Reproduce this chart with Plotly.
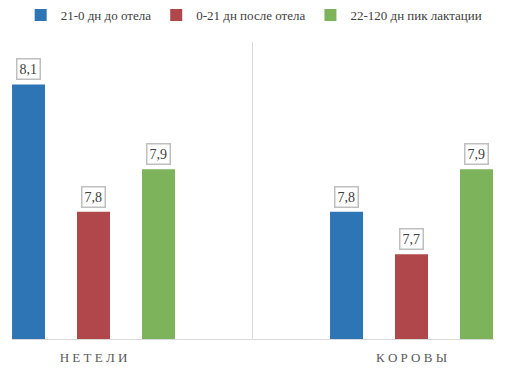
import plotly.graph_objects as go

categories = ["НЕТЕЛИ", "КОРОВЫ"]
category_labels = ["Н Е Т Е Л И", "К О Р О В Ы"]
series_names = ["21-0 дн до отела", "0-21 дн после отела", "22-120 дн пик лактации"]
series_values = [
    [8.1, 7.8],
    [7.8, 7.7],
    [7.9, 7.9],
]
colors = ["#2E75B6", "#B0474B", "#7DB35B"]

FONT = "Liberation Serif, Times New Roman, serif"
bargap = 0.387
groupgap = 0.492

fig = go.Figure()
for name, vals, col in zip(series_names, series_values, colors):
    fig.add_trace(go.Bar(
        name=name, x=categories, y=vals,
        marker=dict(color=col, line=dict(width=0)),
    ))

# value labels in boxes
slot = (1 - bargap) / len(series_names)
for j, vals in enumerate(series_values):
    for i, v in enumerate(vals):
        xpos = i + (j - (len(series_names) - 1) / 2) * slot
        fig.add_annotation(
            x=xpos, y=v, xref="x", yref="y",
            text=f"{v:.1f}".replace(".", ","),
            showarrow=False, yanchor="bottom", yshift=4,
            font=dict(family=FONT, size=14, color="#404040"),
            bgcolor="white", bordercolor="#BFBFBF", borderwidth=1.5, borderpad=2,
        )

fig.update_layout(
    width=517, height=377,
    margin=dict(l=12, r=23, t=40, b=38),
    paper_bgcolor="white", plot_bgcolor="white",
    barmode="group", bargap=bargap, bargroupgap=groupgap,
    font=dict(family=FONT, color="#404040"),
    showlegend=True,
    legend=dict(
        orientation="h", x=0.04, xref="container", xanchor="left",
        y=1.0, yref="container", yanchor="top",
        font=dict(family=FONT, size=13, color="#404040"),
        itemclick=False, traceorder="normal",
    ),
    xaxis=dict(
        type="category", range=[-0.2563, 1.2594],
        tickvals=categories, ticktext=category_labels,
        tickson="boundaries", ticks="", showgrid=True, gridcolor="#D9D9D9", gridwidth=1,
        showline=True, linecolor="#D9D9D9", linewidth=1,
        tickfont=dict(family=FONT, size=13, color="#595959"),
        ticklabelstandoff=6,
        fixedrange=True,
    ),
    yaxis=dict(
        range=[7.5, 8.2], showgrid=False, showticklabels=False, zeroline=False,
        showline=False, ticks="", fixedrange=True,
    ),
)

fig.write_html("out.html", config={"displayModeBar": False},
               post_script="document.body.style.margin='0';")
